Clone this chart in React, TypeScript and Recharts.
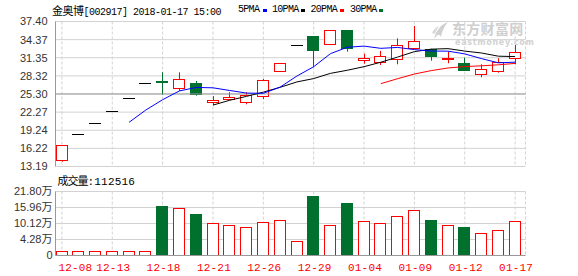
import React from 'react';
import { ComposedChart, BarChart, Bar, Line, XAxis, YAxis, CartesianGrid, ReferenceLine } from 'recharts';

const dates = ['12-08','12-11','12-12','12-13','12-14','12-15','12-18','12-19','12-20','12-21','12-22','12-25','12-26','12-27','12-28','12-29','01-02','01-03','01-04','01-05','01-08','01-09','01-10','01-11','01-12','01-15','01-16','01-17'];
const opens = [14.23,18.62,20.40,22.41,24.58,27.08,27.45,26.25,27.13,24.00,24.45,23.91,24.96,29.19,33.50,34.98,33.69,35.98,30.92,30.69,31.14,32.93,32.76,31.20,30.42,28.59,29.14,31.31];
const highs = [16.78,18.62,20.40,22.41,24.58,27.08,28.92,28.92,27.47,24.95,25.60,25.58,27.80,30.42,33.50,34.98,35.98,35.98,32.02,32.48,34.59,36.65,32.85,32.36,31.36,30.25,31.26,33.48];
const lows = [14.00,18.62,20.40,22.41,24.58,27.08,25.13,25.80,25.01,23.45,24.30,23.58,24.46,29.19,33.50,29.85,33.55,32.36,30.36,30.14,30.25,32.93,30.86,30.42,29.35,28.08,28.85,30.25];
const closes = [16.78,18.62,20.40,22.41,24.58,27.08,27.25,27.75,25.30,24.25,24.85,25.08,27.58,30.42,33.50,32.69,35.98,32.93,31.36,31.64,33.43,34.20,31.69,31.30,29.35,29.47,30.69,32.26];
const ma5 = [null,null,null,null,20.56,22.62,24.34,25.81,26.39,26.33,25.88,25.45,25.41,26.44,28.29,29.85,32.03,33.10,33.29,32.92,33.07,32.71,32.46,32.45,31.99,31.20,30.50,30.61];
const ma10 = [null,null,null,null,null,null,null,null,null,23.44,24.25,24.90,25.61,26.41,27.31,27.87,28.74,29.26,29.86,30.60,31.46,32.37,32.78,32.87,32.46,32.14,31.61,31.54];
const ma20 = [null,null,null,null,null,null,null,null,null,null,null,null,null,null,null,null,null,null,null,27.02,27.85,28.63,29.20,29.64,29.88,30.00,30.17,30.40];
const volumes = [1.6,1.6,1.6,1.6,1.6,1.6,16.7,16.25,14.3,11.04,10.35,9.78,11.38,12.16,4.9,20.3,10.35,17.95,11.72,11.04,13.42,15.57,12.16,10.35,9.78,7.63,8.65,11.72];

const priceTicks = [13.19,16.22,19.24,22.27,25.30,28.32,31.35,34.37,37.40];
const volTickValues = [0,5.45,10.9,16.35,21.8];
const volTickLabels = ['0','4.28万','10.12万','15.96万','21.80万'];

const PRICE_MIN = 13.19;
const PRICE_MAX = 37.40;
const VOL_MAX = 21.8;
const RED = '#ff0000';
const GREEN = '#00702f';
const BLUE = '#0000ff';
const BORDER = '#999999';
const GRID = '#d2d2d2';

const data = dates.map((d, i) => ({
  date: d, open: opens[i], high: highs[i], low: lows[i], close: closes[i],
  ma5: ma5[i], ma10: ma10[i], ma20: ma20[i], vol: volumes[i],
}));

const Candle = (props: any) => {
  const { x, y, width, height, payload } = props;
  if (x == null || y == null || !payload) return null;
  const { open, close, high, low } = payload;
  const k = height / (high - PRICE_MIN);
  const py = (v: number) => y + (high - v) * k;
  const left = Math.round(x);
  const w = Math.round(width);
  const cx = left + Math.floor(w / 2) + 0.5;
  if (open === close) {
    const yy = Math.round(py(open)) + 0.5;
    return (
      <g>
        {high > low && <line x1={cx} x2={cx} y1={py(high)} y2={py(low)} stroke="#000" />}
        <line x1={left} x2={left + w} y1={yy} y2={yy} stroke="#000" />
      </g>
    );
  }
  const up = close > open;
  const color = up ? RED : GREEN;
  const top = Math.round(py(Math.max(open, close))) + 0.5;
  const bot = Math.round(py(Math.min(open, close))) + 0.5;
  return (
    <g>
      <line x1={cx} x2={cx} y1={py(high)} y2={py(low)} stroke={color} />
      <rect x={left + 0.5} y={top} width={w - 1} height={Math.max(bot - top, 1)} fill={up ? '#fff' : color} stroke={color} />
    </g>
  );
};

const VolBar = (props: any) => {
  const { x, y, width, height, payload } = props;
  if (x == null || y == null || !payload) return null;
  const down = payload.close < payload.open;
  const left = Math.round(x) + 0.5;
  const w = Math.round(width) - 1;
  const top = Math.round(y) + 0.5;
  const bottom = Math.round(y + height) - 0.5;
  return <rect x={left} y={top} width={w} height={Math.max(bottom - top, 1)} fill={down ? GREEN : '#fff'} stroke={down ? GREEN : RED} />;
};

const EmptyTick = () => <g />;

const DateTick = (props: any) => {
  const { x, y, payload } = props;
  const first = payload.value === dates[0];
  return (
    <text x={first ? x - 3.5 : x + 1} y={y + 15} textAnchor={first ? 'start' : 'middle'} fill={RED}
      style={{ fontFamily: '"Liberation Mono", "DejaVu Sans Mono", monospace', fontSize: 11, letterSpacing: 0.2 }}>
      {payload.value}
    </text>
  );
};

const axisFont = { fontSize: 11, fill: '#333', fontFamily: '"Liberation Sans", "Noto Sans CJK SC", sans-serif' };
const xPad = { left: -2, right: 2 };

export default function App() {
  const abs: React.CSSProperties = { position: 'absolute', left: 0, top: 0 };
  return (
    <div style={{ position: 'absolute', left: 0, top: 0, width: 578, height: 276, background: '#fff', overflow: 'hidden' }}>
      {/* header */}
      <div style={{ position: 'absolute', left: 52, top: 3, whiteSpace: 'nowrap', lineHeight: '14px', color: '#000', fontFamily: '"Liberation Mono", monospace', fontSize: 10, letterSpacing: -0.5 }}>
        <span style={{ fontFamily: '"Noto Sans CJK SC"', fontSize: 11, letterSpacing: -0.5 }}>金奥博</span>[002917] 2018-01-17 15:00
      </div>
      {[
        { label: '5PMA', x: 238, sq: 263, c: BLUE },
        { label: '10PMA', x: 272, sq: 301, c: '#000' },
        { label: '20PMA', x: 310.5, sq: 340, c: RED },
        { label: '30PMA', x: 350, sq: 379, c: GREEN },
      ].map((l) => (
        <React.Fragment key={l.label}>
          <div style={{ position: 'absolute', left: l.x, top: 3, whiteSpace: 'nowrap', lineHeight: '14px', color: '#000', fontFamily: '"Liberation Mono", monospace', fontSize: 10, letterSpacing: -0.7 }}>{l.label}</div>
          <div style={{ position: 'absolute', left: l.sq, top: 9, width: 4, height: 3, background: l.c }} />
        </React.Fragment>
      ))}
      {/* watermark */}
      <svg style={{ position: 'absolute', left: 430, top: 21 }} width={22} height={20}>
        <path d="M4 18 C 6 10, 10 4, 18 1 C 14 6, 12 10, 11 16 C 9 12, 7 14, 4 18 Z" fill="#d0d0d0" />
        <path d="M2 12 C 4 8, 6 6, 9 5 C 7 8, 6 10, 5 13 Z" fill="#d8d8d8" />
      </svg>
      <div style={{ position: 'absolute', left: 452, top: 20.5, whiteSpace: 'nowrap', lineHeight: '15px', height: 15, color: '#cfcfcf', fontFamily: '"Noto Sans CJK SC"', fontWeight: 700, fontSize: 14, letterSpacing: 0.3 }}>东方财富网</div>
      <div style={{ position: 'absolute', left: 455, top: 39, whiteSpace: 'nowrap', lineHeight: '8px', height: 8, color: '#d2d2d2', fontFamily: '"DejaVu Sans", sans-serif', fontWeight: 700, fontSize: 8, letterSpacing: 0.7 }}>eastmoney.com</div>
      {/* volume label */}
      <div style={{ position: 'absolute', left: 57.5, top: 173, whiteSpace: 'nowrap', lineHeight: '14px', color: '#000', fontFamily: '"Liberation Mono", monospace', fontSize: 11, letterSpacing: 0.2 }}>
        <span style={{ fontFamily: '"Noto Sans CJK SC"', fontSize: 11, letterSpacing: -1 }}>成交量</span>:112516
      </div>

      <div style={abs}>
        <ComposedChart width={578} height={276} data={data} margin={{ top: 21.5, right: 52.5, bottom: 109.5, left: 0 }}>
          <CartesianGrid vertical={false} stroke={GRID} />
          <CartesianGrid horizontal={false} stroke={GRID} strokeDasharray="3 2" />
          <ReferenceLine y={25.30} stroke={BORDER} />
          <XAxis dataKey="date" interval={2} height={0} tick={EmptyTick} tickLine={false} axisLine={{ stroke: BORDER }} padding={xPad} />
          <XAxis xAxisId="top" orientation="top" dataKey="date" height={0} tick={false} tickLine={false} axisLine={{ stroke: BORDER }} />
          <YAxis type="number" domain={[PRICE_MIN, PRICE_MAX]} ticks={priceTicks} interval={0} allowDataOverflow width={55.5}
            tick={axisFont} tickLine={false} tickSize={6} tickMargin={2} axisLine={{ stroke: BORDER }}
            tickFormatter={(v: number) => v.toFixed(2)} />
          <YAxis yAxisId="r" orientation="right" domain={[0, 1]} width={0} tick={false} tickLine={false} axisLine={{ stroke: BORDER }} />
          <Bar dataKey="high" barSize={12} shape={(p: any) => <Candle {...p} />} isAnimationActive={false} />
          <Line type="linear" dataKey="ma20" stroke={RED} strokeWidth={1} dot={false} activeDot={false} isAnimationActive={false} />
          <Line type="linear" dataKey="ma10" stroke="#000" strokeWidth={1} dot={false} activeDot={false} isAnimationActive={false} />
          <Line type="linear" dataKey="ma5" stroke={BLUE} strokeWidth={1} dot={false} activeDot={false} isAnimationActive={false} />
        </ComposedChart>
      </div>

      <div style={abs}>
        <BarChart width={578} height={276} data={data} margin={{ top: 191.5, right: 52.5, bottom: 0.5, left: 0 }}>
          <CartesianGrid vertical={false} stroke={GRID} />
          <CartesianGrid horizontal={false} stroke={GRID} strokeDasharray="3 2" />
          <XAxis dataKey="date" interval={2} height={20} tick={DateTick} tickLine={false} tickSize={0} tickMargin={0} axisLine={{ stroke: BORDER }} padding={xPad} />
          <XAxis xAxisId="top" orientation="top" dataKey="date" height={0} tick={false} tickLine={false} axisLine={{ stroke: BORDER }} />
          <YAxis type="number" domain={[0, VOL_MAX]} ticks={volTickValues} interval={0} allowDataOverflow width={55.5}
            tick={axisFont} tickLine={false} tickSize={0} tickMargin={3} axisLine={{ stroke: BORDER }}
            tickFormatter={(v: number) => volTickLabels[volTickValues.indexOf(v)] ?? ''} />
          <YAxis yAxisId="r" orientation="right" domain={[0, 1]} width={0} tick={false} tickLine={false} axisLine={{ stroke: BORDER }} />
          <Bar dataKey="vol" barSize={12} shape={(p: any) => <VolBar {...p} />} isAnimationActive={false} />
        </BarChart>
      </div>
    </div>
  );
}
